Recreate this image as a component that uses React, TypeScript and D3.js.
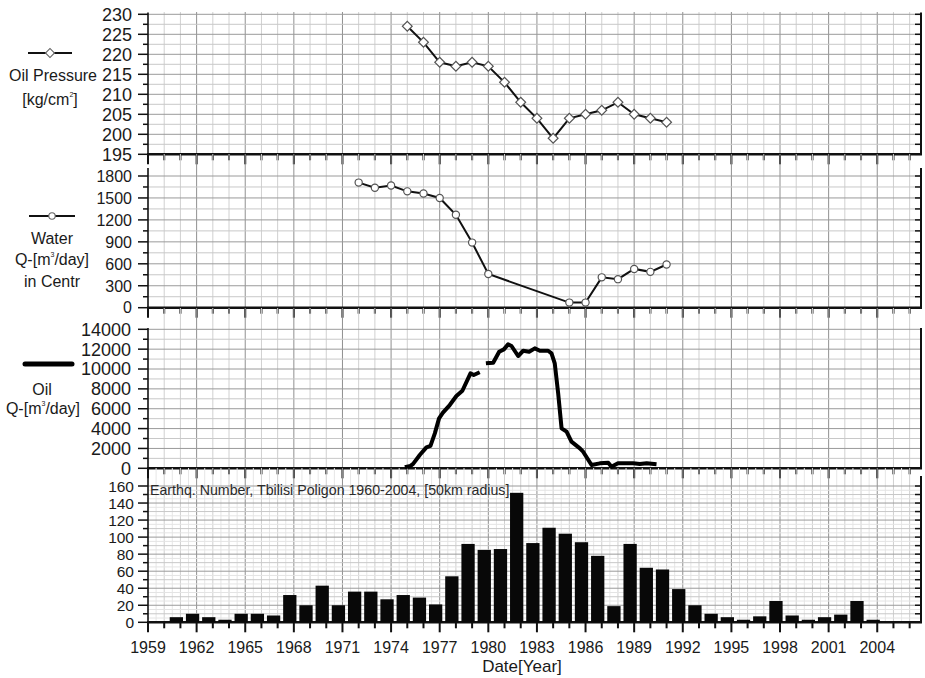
import React, { useEffect, useRef } from 'react';
import * as d3 from 'd3';

// Oil pressure, kg/cm2
const pressureYears = [1975, 1976, 1977, 1978, 1979, 1980, 1981, 1982, 1983, 1984, 1985, 1986, 1987, 1988, 1989, 1990, 1991];
const pressureValues = [227, 223, 218, 217, 218, 217, 213, 208, 204, 199, 204, 205, 206, 208, 205, 204, 203];

// Water Q in Centr, m3/day
const waterYears = [1972, 1973, 1974, 1975, 1976, 1977, 1978, 1979, 1980, 1985, 1986, 1987, 1988, 1989, 1990, 1991];
const waterValues = [1710, 1640, 1670, 1590, 1560, 1500, 1270, 890, 460, 70, 70, 415, 390, 530, 490, 590];

// Oil Q, m3/day (null = gap in the record)
const oilYears = [
  1974.85, 1975.2, 1975.36, 1975.77, 1976.18, 1976.43, 1976.7, 1976.96, 1977.2, 1977.62, 1978.03, 1978.4, 1978.9, 1979.1, 1979.47,
  1979.66,
  1979.85, 1980.3, 1980.67, 1980.96, 1981.22, 1981.43, 1981.84, 1982.15, 1982.52, 1982.87, 1983.18, 1983.69, 1983.9, 1984.1,
  1984.31, 1984.52, 1984.83, 1985.13, 1985.65, 1985.85, 1986.37, 1986.88, 1987.4, 1987.6, 1988.0, 1988.94, 1989.35, 1989.77, 1990.38,
];
const oilValues = [
  100, 250, 450, 1340, 2110, 2250, 3520, 5030, 5600, 6370, 7280, 7810, 9560, 9400, 9670,
  null,
  10570, 10630, 11740, 11980, 12480, 12320, 11310, 11840, 11740, 12080, 11840, 11840, 11580, 10570,
  7550, 4030, 3690, 2680, 2010, 1670, 330, 500, 570, 160, 500, 500, 430, 500, 400,
];

// Earthquake number per year, Tbilisi polygon
const quakeYears = [
  1960, 1961, 1962, 1963, 1964, 1965, 1966, 1967, 1968, 1969, 1970, 1971, 1972, 1973, 1974, 1975, 1976, 1977, 1978, 1979, 1980,
  1981, 1982, 1983, 1984, 1985, 1986, 1987, 1988, 1989, 1990, 1991, 1992, 1993, 1994, 1995, 1996, 1997, 1998, 1999, 2000,
  2001, 2002, 2003, 2004,
];
const quakeCounts = [
  0, 6, 10, 6, 3, 10, 10, 8, 32, 20, 43, 20, 36, 36, 27, 32, 29, 21, 54, 92, 85,
  86, 152, 93, 111, 104, 94, 78, 19, 92, 64, 62, 39, 20, 10, 6, 3, 7, 25, 8, 3,
  6, 9, 25, 3,
];

const yearTickLabels = [1959, 1962, 1965, 1968, 1971, 1974, 1977, 1980, 1983, 1986, 1989, 1992, 1995, 1998, 2001, 2004];
const pressureTicks = [195, 200, 205, 210, 215, 220, 225, 230];
const waterTicks = [0, 300, 600, 900, 1200, 1500, 1800];
const oilTicks = [0, 2000, 4000, 6000, 8000, 10000, 12000, 14000];
const quakeTicks = [0, 20, 40, 60, 80, 100, 120, 140, 160];

const FONT = '"Liberation Sans", Arial, sans-serif';

const App = () => {
  const svgRef = useRef<SVGSVGElement>(null);

  useEffect(() => {
    if (!svgRef.current) return;
    const svg = d3.select(svgRef.current);
    svg.selectAll('*').remove();

    const x = d3.scaleLinear().domain([1959, 2006.7]).range([148, 921]);
    const left = x(1959);
    const right = x(2006.7);

    const panels = [
      { ticks: pressureTicks, range: [154.3, 14.3], top: 12, axisTop: 12.5, minor: 2.5, grid: 2.5, fs: 18, labelX: 132, rightTicks: true, dense: false },
      { ticks: waterTicks, range: [307.7, 176], top: 154, axisTop: 168, minor: 150, grid: 150, fs: 16, labelX: 132, rightTicks: true, dense: false },
      { ticks: oilTicks, range: [468.3, 329.3], top: 308, axisTop: 328, minor: 1000, grid: 1000, fs: 18, labelX: 131, rightTicks: false, dense: false },
      { ticks: quakeTicks, range: [622.3, 486], top: 468, axisTop: 476, minor: 10, grid: 5, fs: 15.5, labelX: 134, rightTicks: true, dense: true },
    ].map(p => ({
      ...p,
      y: d3.scaleLinear().domain([p.ticks[0], p.ticks[p.ticks.length - 1]]).range(p.range),
    }));

    const allYears = d3.range(1960, 2007);

    panels.forEach(p => {
      const g = svg.append('g');
      const bottom = p.range[0];
      const lo = p.ticks[0];
      const hi = p.ticks[p.ticks.length - 1];
      const step = p.ticks[1] - p.ticks[0];

      // vertical grid
      if (p.dense) {
        g.selectAll('line.vh')
          .data(allYears.map(d => d - 0.5))
          .enter().append('line')
          .attr('x1', d => x(d)).attr('x2', d => x(d))
          .attr('y1', p.top).attr('y2', bottom)
          .attr('stroke', '#e6e6e6').attr('stroke-width', 1);
      }
      g.selectAll('line.vg')
        .data(allYears)
        .enter().append('line')
        .attr('x1', d => x(d)).attr('x2', d => x(d))
        .attr('y1', p.top).attr('y2', bottom)
        .attr('stroke', d => ((d - 1959) % 3 === 0 ? '#909090' : '#d0d0d0'))
        .attr('stroke-width', 1);

      // horizontal grid
      const hVals = d3.range(lo + p.grid, hi + p.grid / 2, p.grid);
      g.selectAll('line.hg')
        .data(hVals)
        .enter().append('line')
        .attr('x1', left).attr('x2', right)
        .attr('y1', d => p.y(d)).attr('y2', d => p.y(d))
        .attr('stroke', d => {
          const r = (d - lo) / step;
          if (Math.abs(r - Math.round(r)) < 1e-6) return '#9a9a9a';
          const r2 = (d - lo) / p.minor;
          if (Math.abs(r2 - Math.round(r2)) < 1e-6) return '#c8c8c8';
          return '#e4e4e4';
        })
        .attr('stroke-width', 1);

      // left axis
      g.append('line')
        .attr('x1', left).attr('x2', left)
        .attr('y1', p.axisTop).attr('y2', bottom)
        .attr('stroke', '#111').attr('stroke-width', 1.6);
      // right axis
      g.append('line')
        .attr('x1', right).attr('x2', right)
        .attr('y1', p.axisTop).attr('y2', bottom)
        .attr('stroke', '#111').attr('stroke-width', 2);

      const minorVals = d3.range(lo, hi + p.minor / 2, p.minor);
      g.selectAll('line.lt')
        .data(minorVals)
        .enter().append('line')
        .attr('x1', d => left - (p.ticks.includes(d) ? 10 : 5))
        .attr('x2', left)
        .attr('y1', d => p.y(d)).attr('y2', d => p.y(d))
        .attr('stroke', '#111').attr('stroke-width', 1.5);
      if (p.rightTicks) {
        g.selectAll('line.rt')
          .data(minorVals)
          .enter().append('line')
          .attr('x1', right - 6).attr('x2', right)
          .attr('y1', d => p.y(d)).attr('y2', d => p.y(d))
          .attr('stroke', '#111').attr('stroke-width', 1.5);
      }

      g.selectAll('text.yl')
        .data(p.ticks)
        .enter().append('text')
        .attr('x', p.labelX)
        .attr('y', d => p.y(d))
        .attr('dy', '0.36em')
        .attr('text-anchor', 'end')
        .attr('font-family', FONT)
        .attr('font-size', p.fs)
        .attr('fill', '#1a1a1a')
        .text(d => d);

      // bottom axis
      g.selectAll('line.bt')
        .data([1959, ...allYears])
        .enter().append('line')
        .attr('x1', d => x(d)).attr('x2', d => x(d))
        .attr('y1', bottom)
        .attr('y2', d => bottom + ((d - 1959) % 3 === 0 ? 10 : 6))
        .attr('stroke', '#111').attr('stroke-width', 2);
      g.append('line')
        .attr('x1', left - 1).attr('x2', right + 1)
        .attr('y1', bottom).attr('y2', bottom)
        .attr('stroke', '#111').attr('stroke-width', 2.5);
    });

    const [pP, pW, pO, pQ] = panels;

    // Oil pressure
    const pressure = pressureYears.map((d, i) => [d, pressureValues[i]] as [number, number]);
    svg.append('path')
      .datum(pressure)
      .attr('fill', 'none').attr('stroke', '#111').attr('stroke-width', 2)
      .attr('d', d3.line<[number, number]>().x(d => x(d[0])).y(d => pP.y(d[1])));
    svg.selectAll('path.dia')
      .data(pressure)
      .enter().append('path')
      .attr('d', d3.symbol().type(d3.symbolSquare).size(48)())
      .attr('transform', d => `translate(${x(d[0])},${pP.y(d[1])}) rotate(45)`)
      .attr('fill', '#fff').attr('stroke', '#555').attr('stroke-width', 1.2);

    // Water
    const water = waterYears.map((d, i) => [d, waterValues[i]] as [number, number]);
    svg.append('path')
      .datum(water)
      .attr('fill', 'none').attr('stroke', '#111').attr('stroke-width', 2)
      .attr('d', d3.line<[number, number]>().x(d => x(d[0])).y(d => pW.y(d[1])));
    svg.selectAll('circle.w')
      .data(water)
      .enter().append('circle')
      .attr('cx', d => x(d[0])).attr('cy', d => pW.y(d[1]))
      .attr('r', 3.6)
      .attr('fill', '#fff').attr('stroke', '#555').attr('stroke-width', 1.2);

    // Oil
    const oil = oilYears.map((d, i) => [d, oilValues[i]] as [number, number | null]);
    svg.append('path')
      .datum(oil)
      .attr('fill', 'none').attr('stroke', '#000').attr('stroke-width', 4)
      .attr('stroke-linejoin', 'round')
      .attr('d', d3.line<[number, number | null]>()
        .defined(d => d[1] !== null)
        .x(d => x(d[0])).y(d => pO.y(d[1] as number)));

    // Earthquakes
    const bw = x(0.82) - x(0);
    svg.selectAll('rect.q')
      .data(quakeYears.map((d, i) => [d, quakeCounts[i]]))
      .enter().append('rect')
      .attr('x', d => x(d[0] - 0.25) - bw / 2)
      .attr('width', bw)
      .attr('y', d => pQ.y(d[1]))
      .attr('height', d => pQ.y(0) - pQ.y(d[1]))
      .attr('fill', '#080808');

    svg.append('text')
      .attr('x', 150).attr('y', 495)
      .attr('font-family', FONT).attr('font-size', 14.2).attr('fill', '#2a2a2a')
      .text('Earthq. Number, Tbilisi Poligon 1960-2004, [50km radius]');

    // x labels
    svg.selectAll('text.xl')
      .data(yearTickLabels)
      .enter().append('text')
      .attr('x', d => x(d)).attr('y', 653)
      .attr('text-anchor', 'middle')
      .attr('font-family', FONT).attr('font-size', 16).attr('fill', '#1a1a1a')
      .text(d => d);
    svg.append('text')
      .attr('x', 522).attr('y', 672)
      .attr('text-anchor', 'middle')
      .attr('font-family', FONT).attr('font-size', 17).attr('fill', '#1a1a1a')
      .text('Date[Year]');

    // legends
    const legendText = (cx: number, y: number, parts: [string, boolean][]) => {
      const t = svg.append('text')
        .attr('x', cx).attr('y', y)
        .attr('text-anchor', 'middle')
        .attr('font-family', FONT).attr('font-size', 16).attr('fill', '#1a1a1a');
      parts.forEach(([s, sup]) => {
        t.append('tspan')
          .attr('font-size', sup ? 7 : 16)
          .attr('baseline-shift', sup ? '120%' : null)
          .text(s);
      });
    };

    svg.append('line').attr('x1', 28).attr('x2', 72).attr('y1', 53).attr('y2', 53)
      .attr('stroke', '#111').attr('stroke-width', 2);
    svg.append('path')
      .attr('d', d3.symbol().type(d3.symbolSquare).size(40)())
      .attr('transform', 'translate(50,53) rotate(45)')
      .attr('fill', '#fff').attr('stroke', '#666').attr('stroke-width', 1.1);
    legendText(53, 81, [['Oil Pressure', false]]);
    legendText(50, 105, [['[kg/cm', false], ['2', true], [']', false]]);

    svg.append('line').attr('x1', 29).attr('x2', 75).attr('y1', 216).attr('y2', 216)
      .attr('stroke', '#111').attr('stroke-width', 2);
    svg.append('circle').attr('cx', 52).attr('cy', 216).attr('r', 3.2)
      .attr('fill', '#fff').attr('stroke', '#666').attr('stroke-width', 1.1);
    legendText(52, 244, [['Water', false]]);
    legendText(52, 265, [['Q-[m', false], ['3', true], ['/day]', false]]);
    legendText(52, 287, [['in Centr', false]]);

    svg.append('line').attr('x1', 25).attr('x2', 72).attr('y1', 364).attr('y2', 364)
      .attr('stroke', '#000').attr('stroke-width', 5).attr('stroke-linecap', 'round');
    legendText(42, 395, [['Oil', false]]);
    legendText(43, 414, [['Q-[m', false], ['3', true], ['/day]', false]]);
  }, []);

  return (
    <div>
      <svg
        ref={svgRef}
        width={925}
        height={678}
        style={{ position: 'absolute', left: 0, top: 0, background: '#fff' }}
      />
    </div>
  );
};

export default App;
